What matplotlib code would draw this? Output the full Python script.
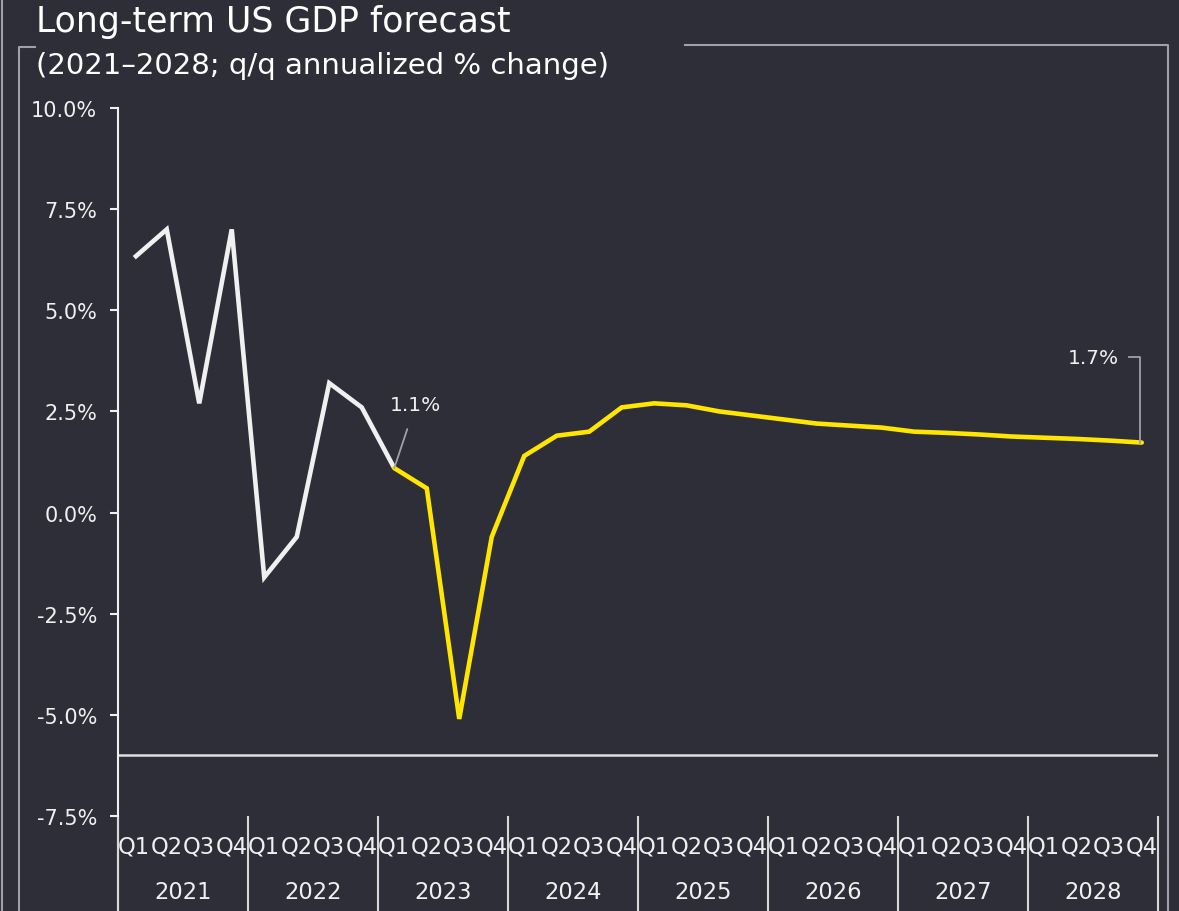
import matplotlib.pyplot as plt
from matplotlib.lines import Line2D
import numpy as np

years = ['2021', '2022', '2023', '2024', '2025', '2026', '2027', '2028']
quarters = ['Q1', 'Q2', 'Q3', 'Q4']

# q/q annualized % change, 2021Q1..2023Q1 actual, 2023Q1..2028Q4 forecast
actual = [6.3, 7.0, 2.7, 7.0,
          -1.6, -0.6, 3.2, 2.6,
          1.1]
forecast = [1.1, 0.6, -5.1, -0.6,
            1.4, 1.9, 2.0, 2.6,
            2.7, 2.65, 2.5, 2.4,
            2.3, 2.2, 2.15, 2.1,
            2.0, 1.97, 1.93, 1.88,
            1.85, 1.82, 1.78, 1.73]
yticks = [-7.5, -5.0, -2.5, 0.0, 2.5, 5.0, 7.5, 10.0]

bg = '#2e2e38'
white = '#f0f0f0'
yellow = '#ffe600'
grey = '#a0a0a8'

plt.rcParams['font.family'] = ['DejaVu Sans']
fig = plt.figure(figsize=(11.79, 9.12), dpi=100, facecolor=bg)
W, H = 1179, 912

def fx(px):
    return px / W

def fy(py):
    return 1 - py / H

ax = fig.add_axes([fx(118), fy(817), fx(1158) - fx(118), fy(109) - fy(817)])
ax.set_facecolor(bg)

n = len(years) * len(quarters)
x_act = np.arange(len(actual))
x_fc = np.arange(len(actual) - 1, n)
ax.plot(x_act, actual, color=white, lw=3.3, solid_joinstyle='miter', solid_capstyle='butt')
ax.plot(x_fc, forecast, color=yellow, lw=3.3, solid_joinstyle='miter', solid_capstyle='round')

ax.set_xlim(-0.5, n - 0.5)
ax.set_ylim(-7.5, 10)
ax.set_yticks(yticks)
ax.set_yticklabels([f'{v:.1f}%' for v in yticks])
ax.tick_params(axis='y', colors=white, labelsize=15, length=6, width=1.5, pad=9)
ax.set_xticks([])
for s in ['top', 'right', 'bottom']:
    ax.spines[s].set_visible(False)
ax.spines['left'].set_color(white)
ax.spines['left'].set_linewidth(1.5)

ax.axhline(-6, color='#e0e0e0', lw=1.8)

# left spine carried down through the category labels
ax.plot([-0.5, -0.5], [-7.5, -7.5 - 95 / 708 * 17.5], color=white, lw=1.5, clip_on=False)

# quarter and year category labels
for i in range(n):
    ax.text(i, -0.042, quarters[i % 4], transform=ax.get_xaxis_transform(),
            ha='center', va='center', color=white, fontsize=16.3)
for j, yr in enumerate(years):
    ax.text(j * 4 + 1.5, -0.107, yr, transform=ax.get_xaxis_transform(),
            ha='center', va='center', color=white, fontsize=16.3)
for j in range(len(years) + 1):
    ax.plot([j * 4 - 0.5] * 2, [-0.002, -0.14], transform=ax.get_xaxis_transform(),
            color='#d8d8d8', lw=1.5, clip_on=False)

# value call-outs
ax.annotate(f'{actual[-1]:.1f}%', xy=(len(actual) - 1, actual[-1]), xytext=(len(actual) - 1 + 0.65, 2.66),
            ha='center', va='center', color=white, fontsize=14.5,
            arrowprops=dict(arrowstyle='-', color=grey, lw=1.3, shrinkA=9, shrinkB=0))
ax.text(n - 1.7, 3.84, f'{forecast[-1]:.1f}%', ha='right', va='center', color=white, fontsize=14.5)
ax.plot([n - 1.38, n - 1.05, n - 1.05], [3.85, 3.85, forecast[-1]], color=grey, lw=1.3)

# title block
fig.text(fx(36), fy(22), 'Long-term US GDP forecast', ha='left', va='center',
         color='white', fontsize=25)
fig.text(fx(36), fy(66), '(2021\u20132028; q/q annualized % change)', ha='left', va='center',
         color='white', fontsize=21)

# frame around the chart
frame = [([2, 2], [0, 912]),
         ([19, 19, 35], [912, 48, 48]),
         ([685, 1168, 1168], [46, 46, 912])]
for xs, ys in frame:
    fig.add_artist(Line2D([fx(v) for v in xs], [fy(v) for v in ys], color=grey, lw=1.5))

fig.savefig('out.png', facecolor=bg)
